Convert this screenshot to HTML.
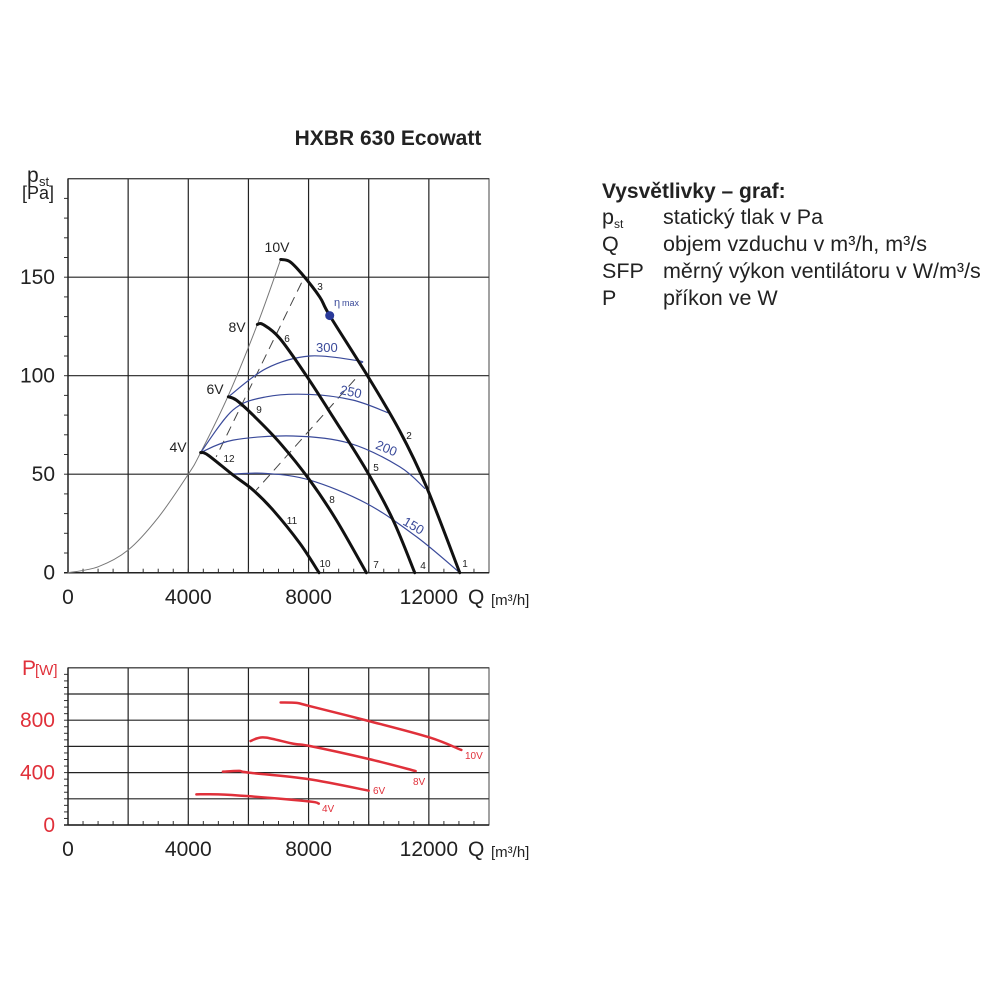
<!DOCTYPE html>
<html><head><meta charset="utf-8"><style>
html,body{margin:0;padding:0;background:#fff;}
svg{display:block;font-family:"Liberation Sans",Arial,sans-serif;}
</style></head><body>
<svg id="chart" width="1000" height="1000" viewBox="0 0 1000 1000" xmlns="http://www.w3.org/2000/svg">
<text x="388" y="145" font-size="21" font-weight="bold" text-anchor="middle" fill="#222">HXBR 630 Ecowatt</text>
<g id="upper"></g>
<g id="lower"></g>
<g font-size="21.5" fill="#222">
<text x="602" y="198" font-weight="bold" font-size="21">Vysvětlivky – graf:</text>
<text x="602" y="224">p<tspan font-size="12" dy="4">st</tspan></text>
<text x="663" y="224">statický tlak v Pa</text>
<text x="602" y="251">Q</text>
<text x="663" y="251">objem vzduchu v m³/h, m³/s</text>
<text x="602" y="278">SFP</text>
<text x="663" y="278">měrný výkon ventilátoru v W/m³/s</text>
<text x="602" y="305">P</text>
<text x="663" y="305">příkon ve W</text>
</g>
</svg>
<script>
const xTicks=[0,4000,8000,12000];
const yTicksP=[0,50,100,150];
const yTicksW=[0,400,800];
const curve10V=[[7073,159],[7370,158],[7760,152],[8370,140],[8703,130.5],[9978,99.5],[11030,72],[11918,43.7],[13027,0]];
const curve8V=[[6297,126],[6486,126],[7040,119],[7927,100],[8814,79],[9922,52],[10810,26.7],[11530,0]];
const curve6V=[[5333,89.3],[5599,87.6],[6153,80],[7040,66],[8038,47],[8925,26.7],[9922,0]];
const curve4V=[[4412,61],[4656,59.7],[5488,49.6],[6153,42],[6818,31.8],[7705,15],[8348,0]];
const systemCurve=[[0,0],[1000,3],[2000,11.5],[3000,28],[4000,50],[4412,61],[5333,90],[6297,126],[7073,159]];
const sfp300=[[5333,89.3],[6596,103.7],[8038,110],[9645,107.6],[9750,106.5]];
const sfp250=[[4412,61],[5488,82.6],[6596,89.3],[8038,90.5],[9479,87.6],[10643,81.2]];
const sfp200=[[4412,61],[5488,67.3],[7483,69.4],[9368,65.7],[11031,53.8],[11863,42.8]];
const sfp150=[[5488,50.1],[6596,50.4],[8038,47],[9922,35.2],[11585,18.3],[13027,0]];
const dash1=[[7760,147],[4933,59]];
const dash2=[[9534,98],[6264,42]];
const etaMax=[8703,130.5];
const power10V=[[7070,935],[7600,932],[8000,910],[10000,794],[12000,670],[13080,573]];
const power8V=[[6070,641],[6300,662],[6600,667],[7500,620],[8000,605],[10000,504],[11560,412]];
const power6V=[[5150,407],[5700,413],[6000,400],[8000,350],[10000,262]];
const power4V=[[4270,234],[5000,234],[6000,220],[8000,180],[8340,163]];

const NS="http://www.w3.org/2000/svg";
const X=q=>68+q*(421/14000);
const YP=p=>572.7-p*1.97;
const YW=w=>825-w*(26.2/200);
function el(tag,attrs,parent,txt){const e=document.createElementNS(NS,tag);for(const k in attrs)e.setAttribute(k,attrs[k]);if(txt!==undefined)e.textContent=txt;parent.appendChild(e);return e;}
function smooth(pts){let d="M"+pts[0][0]+","+pts[0][1];for(let i=0;i<pts.length-1;i++){const p0=pts[Math.max(i-1,0)],p1=pts[i],p2=pts[i+1],p3=pts[Math.min(i+2,pts.length-1)];const c1=[p1[0]+(p2[0]-p0[0])/6,p1[1]+(p2[1]-p0[1])/6],c2=[p2[0]-(p3[0]-p1[0])/6,p2[1]-(p3[1]-p1[1])/6];d+=" C"+c1[0]+","+c1[1]+" "+c2[0]+","+c2[1]+" "+p2[0]+","+p2[1];}return d;}
function line(g,data,Y,stroke,w,name,dash){const pts=data.map(d=>[X(d[0]),Y(d[1])]);const p=el("path",{d:smooth(pts),fill:"none",stroke:stroke,"stroke-width":w,"stroke-linecap":"round"},g);if(dash)p.setAttribute("stroke-dasharray",dash);


return p;}
function txt(g,x,y,s,attrs,name){const t=el("text",Object.assign({x:x,y:y},attrs),g,s);


return t;}

function grid(g,top,bottom,yLines,minorY){
  for(let i=1;i<7;i++){const x=X(i*2000);const l=el("line",{x1:x,x2:x,y1:top,y2:bottom,stroke:"#222","stroke-width":1.2},g);
  
  }
  yLines.forEach(y=>{const l=el("line",{x1:68,x2:X(14000),y1:y,y2:y,stroke:"#222","stroke-width":1.2},g);
  
  });
  const r=el("rect",{x:68,y:top,width:X(14000)-68,height:bottom-top,fill:"none",stroke:"#444","stroke-width":1},g);
  
  
  for(let q=500;q<14000;q+=500){const x=X(q);el("line",{x1:x,x2:x,y1:bottom,y2:bottom-4,stroke:"#333","stroke-width":1},g);}
  minorY.forEach(y=>el("line",{x1:64,x2:68,y1:y,y2:y,stroke:"#333","stroke-width":1},g));
  el("line",{x1:68,x2:68,y1:top,y2:bottom,stroke:"#222","stroke-width":1.5},g);
  el("line",{x1:64,x2:X(14000),y1:bottom,y2:bottom,stroke:"#222","stroke-width":1.5},g);
}
const U=document.getElementById("upper");
const minU=[];for(let p=10;p<200;p+=10)minU.push(YP(p));
grid(U,YP(200),YP(0),yTicksP.concat([200]).map(YP),minU);
yTicksP.forEach(p=>txt(U,55,YP(p)+7,String(p),{"font-size":21,"text-anchor":"end",fill:"#222"},"y-tick-label"));
xTicks.forEach(q=>txt(U,X(q),604,String(q),{"font-size":21,"text-anchor":"middle",fill:"#222"},"x-tick-label"));
txt(U,468,604,"Q",{"font-size":21,fill:"#222"},"x-axis-title");
txt(U,491,605,"[m³/h]",{"font-size":15,fill:"#222"},"x-axis-unit");
txt(U,27,182,"p",{"font-size":21,fill:"#222"},"y-axis-title");
txt(U,39,186,"st",{"font-size":13,fill:"#222"},"y-axis-title-sub");
txt(U,22,199,"[Pa]",{"font-size":18,fill:"#222"},"y-axis-unit");
line(U,systemCurve,YP,"#777",1,"system-curve");
line(U,dash1,YP,"#444",1,"dashed-line-1","9,7");
line(U,dash2,YP,"#444",1,"dashed-line-2","9,7");
line(U,sfp300,YP,"#3a4a9a",1.2,"sfp-300-curve");
line(U,sfp250,YP,"#3a4a9a",1.2,"sfp-250-curve");
line(U,sfp200,YP,"#3a4a9a",1.2,"sfp-200-curve");
line(U,sfp150,YP,"#3a4a9a",1.2,"sfp-150-curve");
line(U,curve10V,YP,"#111",3,"curve-10v");
line(U,curve8V,YP,"#111",3,"curve-8v");
line(U,curve6V,YP,"#111",3,"curve-6v");
line(U,curve4V,YP,"#111",3,"curve-4v");
const dot=el("circle",{cx:X(etaMax[0]),cy:YP(etaMax[1]),r:4.5,fill:"#2a3a9a"},U);


txt(U,334,306,"η",{"font-size":11,fill:"#3a4a9a"},"eta-max-label");
txt(U,342,306,"max",{"font-size":9,fill:"#3a4a9a"},"eta-max-sub");
const blue={fill:"#3a4a9a","font-size":13};
txt(U,316,352,"300",blue,"sfp-300-label");
txt(U,340,396,"250",Object.assign({transform:"rotate(12 350 392)"},blue),"sfp-250-label");
txt(U,375,453,"200",Object.assign({transform:"rotate(22 387 450)"},blue),"sfp-200-label");
txt(U,402,530,"150",Object.assign({transform:"rotate(30 413 527)"},blue),"sfp-150-label");
const small={"font-size":10,fill:"#222","text-anchor":"middle"};
[["3",320,290],["6",287,342],["9",259,413],["12",229,462],["2",409,439],["5",376,471],["8",332,503],["11",292,524],["1",465,567],["4",423,569],["7",376,568],["10",325,567]].forEach(a=>txt(U,a[1],a[2],a[0],small,"operating-point-label"));
const vl={"font-size":14,fill:"#222","text-anchor":"middle"};
[["10V",277,252],["8V",237,332],["6V",215,394],["4V",178,452]].forEach(a=>txt(U,a[1],a[2],a[0],vl,"voltage-label"));

const L=document.getElementById("lower");
const minL=[];for(let w=50;w<1200;w+=50)minL.push(YW(w));
const wl=[];for(let w=0;w<=1200;w+=200)wl.push(YW(w));
grid(L,YW(1200),YW(0),wl,minL);
yTicksW.forEach(w=>txt(L,55,YW(w)+7,String(w),{"font-size":21,"text-anchor":"end",fill:"#e0303a"},"power-y-tick-label"));
xTicks.forEach(q=>txt(L,X(q),856,String(q),{"font-size":21,"text-anchor":"middle",fill:"#222"},"power-x-tick-label"));
txt(L,468,856,"Q",{"font-size":21,fill:"#222"},"power-x-axis-title");
txt(L,491,857,"[m³/h]",{"font-size":15,fill:"#222"},"power-x-axis-unit");
txt(L,22,675,"P",{"font-size":21,fill:"#e0303a"},"power-y-axis-title");
txt(L,35,675,"[W]",{"font-size":15,fill:"#e0303a"},"power-y-axis-unit");
line(L,power10V,YW,"#e0303a",2.5,"power-curve-10v");
line(L,power8V,YW,"#e0303a",2.5,"power-curve-8v");
line(L,power6V,YW,"#e0303a",2.5,"power-curve-6v");
line(L,power4V,YW,"#e0303a",2.5,"power-curve-4v");
const rl={"font-size":10,fill:"#e0303a"};
[["10V",465,759],["8V",413,785],["6V",373,794],["4V",322,812]].forEach(a=>txt(L,a[1],a[2],a[0],rl,"power-voltage-label"));
</script>
</body></html>
